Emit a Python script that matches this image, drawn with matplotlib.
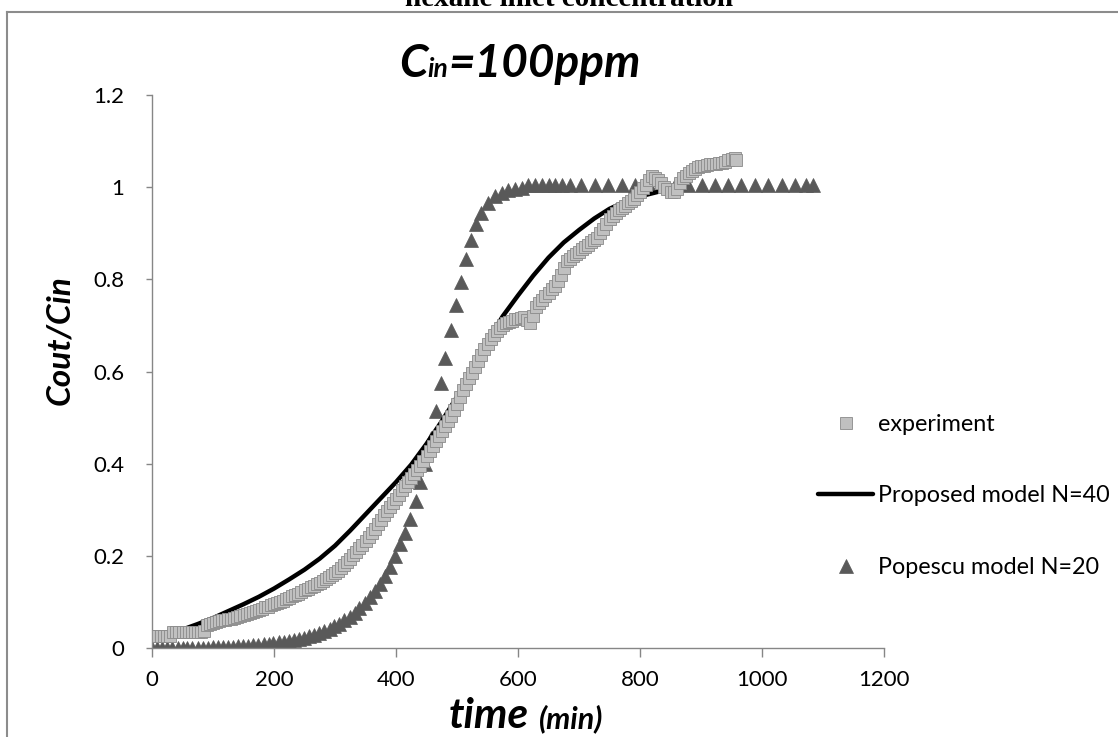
"""Breakthrough curve at 100 ppm hexane inlet: experiment vs. two column models."""

import matplotlib

matplotlib.use("Agg")
import matplotlib.pyplot as plt
from matplotlib.lines import Line2D
from matplotlib.offsetbox import AnnotationBbox, HPacker, TextArea

plt.rcParams["font.family"] = ["Lato", "DejaVu Sans"]

# experimental outlet/inlet ratio
exp_time = [
    0, 5, 10, 15, 20, 25, 30, 35, 40, 45, 50, 55, 60, 65, 70, 75, 80, 85, 90,
    95, 100, 105, 110, 115, 120, 125, 130, 135, 140, 145, 150, 155, 160, 165,
    170, 175, 180, 185, 190, 195, 200, 205, 210, 215, 220, 225, 230, 235, 240,
    245, 250, 255, 260, 265, 270, 275, 280, 285, 290, 295, 300, 305, 310, 315,
    320, 325, 330, 335, 340, 345, 350, 355, 360, 365, 370, 375, 380, 385, 390,
    395, 400, 405, 410, 415, 420, 425, 430, 435, 440, 445, 450, 455, 460, 465,
    470, 475, 480, 485, 490, 495, 500, 505, 510, 515, 520, 525, 530, 535, 540,
    545, 550, 555, 560, 565, 570, 575, 580, 585, 590, 595, 600, 605, 610, 615,
    620, 625, 630, 635, 640, 645, 650, 655, 660, 665, 670, 675, 680, 685, 690,
    695, 700, 705, 710, 715, 720, 725, 730, 735, 740, 745, 750, 755, 760, 765,
    770, 775, 780, 785, 790, 795, 800, 805, 810, 815, 820, 825, 830, 835, 840,
    845, 850, 855, 860, 865, 870, 875, 880, 885, 890, 895, 900, 905, 910, 915,
    920, 925, 930, 935, 940, 945, 950, 955, 958,
]
exp_ratio = [
    0.025, 0.025, 0.025, 0.025, 0.025, 0.025, 0.025, 0.035, 0.035, 0.035,
    0.035, 0.035, 0.035, 0.035, 0.035, 0.035, 0.035, 0.036, 0.050, 0.053,
    0.055, 0.057, 0.058, 0.060, 0.061, 0.063, 0.064, 0.066, 0.068, 0.070,
    0.072, 0.074, 0.076, 0.078, 0.080, 0.083, 0.085, 0.088, 0.090, 0.093,
    0.095, 0.098, 0.100, 0.103, 0.106, 0.109, 0.112, 0.115, 0.118, 0.121,
    0.125, 0.128, 0.132, 0.135, 0.139, 0.142, 0.146, 0.150, 0.154, 0.158,
    0.162, 0.168, 0.174, 0.180, 0.187, 0.194, 0.201, 0.208, 0.216, 0.224,
    0.232, 0.241, 0.250, 0.259, 0.269, 0.278, 0.288, 0.297, 0.306, 0.315,
    0.324, 0.333, 0.342, 0.351, 0.360, 0.369, 0.378, 0.387, 0.396, 0.406,
    0.417, 0.427, 0.438, 0.449, 0.460, 0.471, 0.482, 0.492, 0.503, 0.516,
    0.530, 0.545, 0.560, 0.572, 0.585, 0.597, 0.610, 0.622, 0.635, 0.648,
    0.660, 0.670, 0.680, 0.688, 0.695, 0.700, 0.705, 0.708, 0.710, 0.713,
    0.715, 0.717, 0.718, 0.712, 0.706, 0.720, 0.740, 0.748, 0.755, 0.763,
    0.770, 0.778, 0.785, 0.797, 0.810, 0.825, 0.840, 0.845, 0.850, 0.855,
    0.860, 0.865, 0.870, 0.875, 0.880, 0.885, 0.890, 0.900, 0.910, 0.920,
    0.930, 0.938, 0.945, 0.950, 0.955, 0.960, 0.965, 0.970, 0.975, 0.982,
    0.990, 0.998, 1.005, 1.015, 1.025, 1.020, 1.015, 1.008, 1.000, 0.995,
    0.990, 0.990, 0.995, 1.008, 1.020, 1.025, 1.030, 1.035, 1.040, 1.043,
    1.045, 1.047, 1.048, 1.050, 1.050, 1.051, 1.052, 1.053, 1.055, 1.058,
    1.062, 1.064, 1.060,
]

# proposed model, N=40
model_time = [
    0, 25, 50, 75, 100, 125, 150, 175, 200, 225, 250, 275, 300, 325, 350, 375,
    400, 425, 450, 475, 500, 525, 550, 575, 600, 625, 650, 675, 700, 725, 750,
    775, 800, 830,
]
model_ratio = [
    0.020, 0.030, 0.040, 0.052, 0.065, 0.080, 0.095, 0.111, 0.129, 0.149,
    0.170, 0.194, 0.222, 0.255, 0.290, 0.325, 0.360, 0.398, 0.443, 0.492,
    0.545, 0.605, 0.665, 0.720, 0.765, 0.808, 0.847, 0.880, 0.907, 0.932,
    0.953, 0.968, 0.980, 0.990,
]

# Popescu model, N=20
pop_time = [
    0, 8, 17, 25, 33, 42, 50, 58, 66, 75, 83, 91, 100, 108, 116, 125, 133, 141,
    149, 158, 166, 174, 183, 191, 199, 208, 216, 224, 232, 241, 249, 257, 266,
    274, 282, 291, 299, 307, 315, 324, 332, 340, 349, 357, 365, 374, 382, 390,
    398, 407, 415, 423, 432, 440, 448, 457, 465, 473, 481, 490, 498, 506, 515,
    523, 531, 540, 551, 562, 573, 584, 595, 606, 617, 628, 639, 650, 661, 672,
    685, 704, 726, 748, 770, 792, 814, 836, 857, 879, 901, 923, 945, 966, 988,
    1010, 1032, 1054, 1072, 1083,
]
pop_ratio = [
    0.000, 0.000, 0.000, 0.000, 0.000, 0.000, 0.000, 0.001, 0.001, 0.001,
    0.001, 0.001, 0.002, 0.002, 0.002, 0.003, 0.003, 0.004, 0.004, 0.005,
    0.006, 0.007, 0.008, 0.009, 0.010, 0.012, 0.013, 0.015, 0.017, 0.020,
    0.022, 0.025, 0.029, 0.033, 0.037, 0.042, 0.047, 0.053, 0.060, 0.068,
    0.077, 0.087, 0.098, 0.110, 0.124, 0.139, 0.156, 0.175, 0.200, 0.225,
    0.250, 0.280, 0.320, 0.360, 0.400, 0.455, 0.515, 0.575, 0.630, 0.690,
    0.745, 0.795, 0.845, 0.885, 0.920, 0.945, 0.965, 0.980, 0.988, 0.993,
    0.997, 0.999, 1.005, 1.005, 1.005, 1.005, 1.005, 1.005, 1.005, 1.005,
    1.005, 1.005, 1.005, 1.005, 1.005, 1.005, 1.005, 1.005, 1.005, 1.005,
    1.005, 1.005, 1.005, 1.005, 1.005, 1.005, 1.005, 1.005,
]

x_ticks = [0, 200, 400, 600, 800, 1000, 1200]
y_ticks = [0, 0.2, 0.4, 0.6, 0.8, 1.0, 1.2]
y_tick_labels = ["0", "0.2", "0.4", "0.6", "0.8", "1", "1.2"]

AXIS_GREY = "#868686"
W, H = 1118, 737

fig = plt.figure(figsize=(W / 100, H / 100), dpi=100)
ax = fig.add_axes([152 / W, 1 - 648 / H, 732 / W, 553 / H])

ax.plot(exp_time, exp_ratio, linestyle="none", marker="s", markersize=9,
        markerfacecolor="#C0C0C0", markeredgecolor="#8A8A8A",
        markeredgewidth=0.6, label="experiment", zorder=3)
ax.plot(model_time, model_ratio, color="black", linewidth=3.2,
        solid_capstyle="round", label="Proposed model N=40", zorder=2)
ax.plot(pop_time, pop_ratio, linestyle="none", marker="^", markersize=10.5,
        markerfacecolor="#595959", markeredgecolor="#595959",
        markeredgewidth=0.5, label="Popescu model N=20", zorder=1)

ax.set_xlim(0, 1200)
ax.set_ylim(0, 1.2)
ax.set_xticks(x_ticks)
ax.set_yticks(y_ticks)
ax.set_yticklabels(y_tick_labels)
for side in ("top", "right"):
    ax.spines[side].set_visible(False)
for side in ("left", "bottom"):
    ax.spines[side].set_color(AXIS_GREY)
    ax.spines[side].set_linewidth(1.0)
ax.tick_params(axis="y", direction="out", length=4, width=1,
               color=AXIS_GREY, pad=16, labelsize=16)
ax.tick_params(axis="x", direction="out", length=6.5, width=1,
               color=AXIS_GREY, pad=9.5, labelsize=16)

ax.legend(loc="upper left", bbox_to_anchor=(809 / W, 1 - 405 / H),
          bbox_transform=fig.transFigure, frameon=False,
          fontsize=16.8, handlelength=2.35, handletextpad=0.2,
          labelspacing=2.15, borderaxespad=0)

bold_it = dict(fontweight="bold", style="italic", color="black")

fig.text(60 / W, 1 - 340 / H, "Cout/Cin", rotation=90, ha="center",
         va="center", fontsize=24, **bold_it)

# title with small "in" letters
title = HPacker(children=[
    TextArea("C", textprops=dict(fontsize=33, **bold_it)),
    TextArea("in", textprops=dict(fontsize=19, **bold_it)),
    TextArea("=100ppm", textprops=dict(fontsize=33, **bold_it)),
], align="baseline", pad=0, sep=0)
fig.add_artist(AnnotationBbox(title, (520, H - 64), xycoords="figure pixels",
                              frameon=False, box_alignment=(0.5, 0.5)))

xlabel = HPacker(children=[
    TextArea("time", textprops=dict(fontsize=30.5, **bold_it)),
    TextArea("(min)", textprops=dict(fontsize=22, **bold_it)),
], align="baseline", pad=0, sep=7)
fig.add_artist(AnnotationBbox(xlabel, (526, H - 716), xycoords="figure pixels",
                              frameon=False, box_alignment=(0.5, 0.5)))

# enclosing chart border, partially clipped by the page
fig.add_artist(Line2D([7 / W, 7 / W], [0, 1 - 12 / H],
                      transform=fig.transFigure, color="#8C8C8C", linewidth=1.5))
fig.add_artist(Line2D([7 / W, 1], [1 - 12 / H, 1 - 12 / H],
                      transform=fig.transFigure, color="#8C8C8C", linewidth=1.5))

fig.text(569 / W, 1 - 6 / H, "hexane inlet concentration", ha="center",
         va="baseline", fontsize=21, fontweight="bold",
         family=["Liberation Serif", "DejaVu Serif"])

fig.savefig("out.png", dpi=100)
